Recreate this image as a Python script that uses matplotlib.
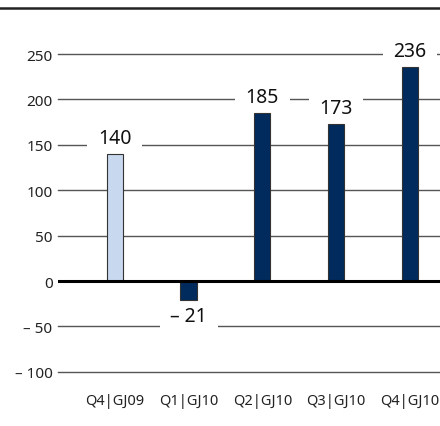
import matplotlib.pyplot as plt
from matplotlib.lines import Line2D

# quarterly values
categories = ["Q4|GJ09", "Q1|GJ10", "Q2|GJ10", "Q3|GJ10", "Q4|GJ10"]
values = [140, -21, 185, 173, 236]
yticks = [-100, -50, 0, 50, 100, 150, 200, 250]

light = "#c8d8ee"
dark = "#002b5c"
bar_colors = [light, dark, dark, dark, dark]


def fmt(v):
    """german style minus with en dash and space"""
    return "\u2013 " + str(abs(v)) if v < 0 else str(v)


plt.rcParams['font.family'] = ['Noto Sans', 'DejaVu Sans']

fig = plt.figure(figsize=(4.4, 4.27), dpi=100)
ax = fig.add_axes([0.132, 0.127, 0.868, 0.744])

x = list(range(len(categories)))

for t in yticks:
    if t == 0:
        continue
    ax.axhline(t, color="#555555", lw=1.0, zorder=1, clip_on=False)
ax.axhline(0, color="black", lw=2.2, zorder=4)

ax.bar(x, values, width=0.22, color=bar_colors, edgecolor="#333333", linewidth=0.8, zorder=3)

for xi, v in zip(x, values):
    if v >= 0:
        off = 8
    else:
        off = -15
    ax.annotate(fmt(v), (xi, v), xytext=(0, off), textcoords="offset points",
                ha="center", va="baseline", fontsize=14, color="#111111", zorder=2.5,
                bbox=dict(boxstyle="square,pad=0.55", fc="white", ec="none"))

ax.set_xlim(-0.77, 4.41)
ax.set_ylim(-100, 250)
ax.set_xticks(x)
ax.set_xticklabels(categories, fontsize=10.5, color="#222222")
ax.set_yticks(yticks)
ax.set_yticklabels([fmt(t) for t in yticks], fontsize=11, color="#222222")
ax.tick_params(length=0, pad=4)
ax.tick_params(axis="x", pad=15)
for s in ax.spines.values():
    s.set_visible(False)

# rule across the top of the figure
fig.add_artist(Line2D([0, 1], [1 - 9 / 427, 1 - 9 / 427], color="#222222", lw=1.8, transform=fig.transFigure))

fig.savefig("out.png", dpi=100)
